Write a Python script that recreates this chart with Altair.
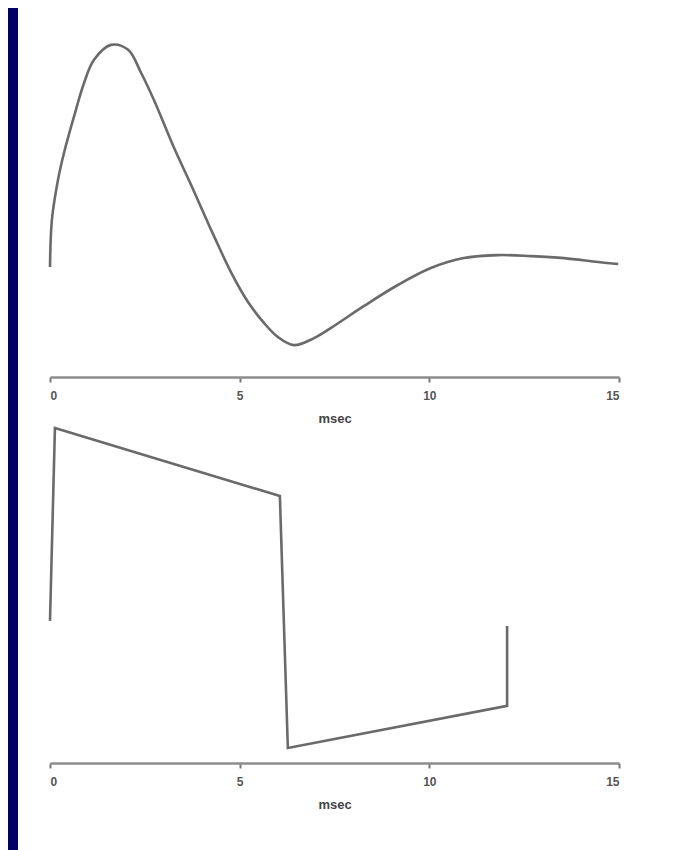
import altair as alt
import pandas as pd

# Top panel: smooth damped response (time in msec, arbitrary amplitude)
top_t = [0.00, 0.05, 0.21, 0.37, 0.63, 0.90, 1.16, 1.61, 2.06, 2.40, 2.74, 3.27,
         3.72, 4.32, 4.77, 5.22, 5.64, 6.01, 6.43, 6.96, 7.41, 8.28, 9.17, 10.04,
         10.91, 11.81, 12.68, 13.55, 14.45, 14.98]
top_v = [33.1, 47.3, 59.3, 67.5, 78.3, 88.6, 95.5, 100.0, 98.5, 91.6, 83.4, 69.0,
         57.8, 42.5, 31.6, 22.6, 16.3, 12.0, 9.6, 11.7, 14.8, 21.4, 27.7, 32.8,
         35.8, 36.7, 36.4, 35.8, 34.6, 34.0]

# Bottom panel: piecewise-linear waveform
bot_t = [0.0, 0.13, 6.06, 6.27, 12.05, 12.05]
bot_v = [42.8, 100.9, 80.4, 4.5, 17.2, 41.3]

tick_values = [0, 5, 10, 15]
x_title = "msec"

top_df = pd.DataFrame({"t": top_t, "v": top_v, "i": range(len(top_t))})
bot_df = pd.DataFrame({"t": bot_t, "v": bot_v, "i": range(len(bot_t))})

line_color = "#6a6a6a"
PW = 569

def x_axis():
    return alt.Axis(values=tick_values, format="d", title=x_title, grid=False,
                    domainColor="#8c8c8c", domainWidth=2.5,
                    tickColor="#777777", tickWidth=2, tickSize=5,
                    labelFont="Liberation Sans", labelFontSize=12,
                    labelFontWeight="bold", labelColor="#555555", labelPadding=8,
                    titleFont="Liberation Sans", titleFontSize=13,
                    titleFontWeight="bold", titleColor="#444444", titlePadding=11)

top = alt.Chart(top_df).mark_line(color=line_color, strokeWidth=2.6,
                                  interpolate="catmull-rom").encode(
    x=alt.X("t:Q", scale=alt.Scale(domain=[0, 15], nice=False), axis=x_axis()),
    y=alt.Y("v:Q", scale=alt.Scale(domain=[0, 111.1], nice=False), axis=None),
    order="i:Q",
).properties(width=PW, height=369)

bottom = alt.Chart(bot_df).mark_line(color=line_color, strokeWidth=2.6).encode(
    x=alt.X("t:Q", scale=alt.Scale(domain=[0, 15], nice=False), axis=x_axis()),
    y=alt.Y("v:Q", scale=alt.Scale(domain=[0, 101.5], nice=False), axis=None),
    order="i:Q",
).properties(width=PW, height=337)

strip = alt.Chart(pd.DataFrame({"a": [0]})).mark_rect(color="#000066").encode(
    x=alt.value(0), x2=alt.value(10), y=alt.value(0), y2=alt.value(842)
).properties(width=10, height=842)

panels = alt.vconcat(top, bottom, spacing=-3)

chart = alt.hconcat(strip, panels, spacing=26).properties(
    padding={"left": 0, "top": 0, "right": 0, "bottom": 0},
    background="white",
).configure_view(stroke=None)

chart.save("out.html", embed_options={"renderer": "svg", "actions": False})
